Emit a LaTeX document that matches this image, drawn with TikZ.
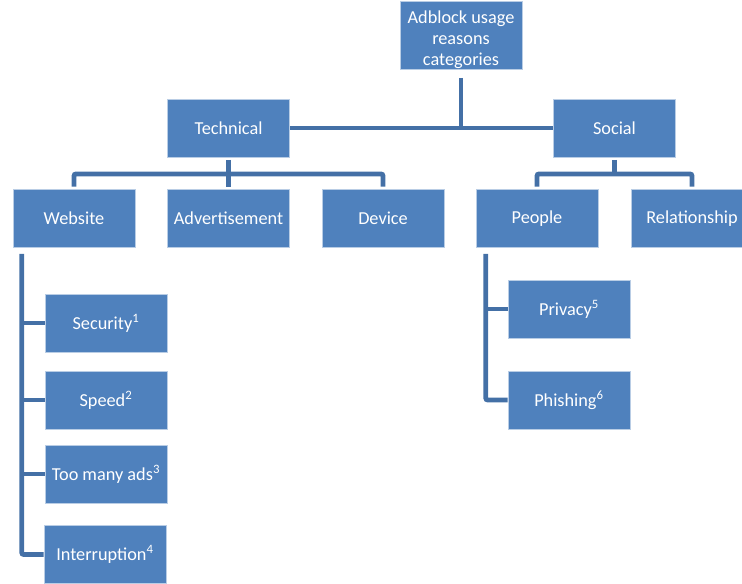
\documentclass[tikz,border=0pt]{standalone}
\usepackage{fontspec}
\setmainfont{Carlito}
\usetikzlibrary{calc}
\definecolor{boxblue}{RGB}{79,129,189}
\definecolor{lineblue}{RGB}{68,112,166}
\tikzset{
 cat/.style={fill=boxblue,draw=boxblue!40!white,line width=0.4pt,text=white,
  minimum width=91.5pt,minimum height=43.5pt,inner sep=1pt,align=center,
  font=\fontsize{13.7}{15.6}\selectfont},
 link/.style={draw=lineblue,line width=3.6pt,rounded corners=1.5pt}
}

\begin{document}
\begin{tikzpicture}[x=0.75pt,y=-0.75pt]
 \useasboundingbox (0,0) rectangle (742,583);
 \node[cat,minimum height=45pt] (top) at (461,35.5) {\rule{0pt}{15.5pt}Adblock usage\\reasons\\categories};
 \node[cat] (tech) at (228.5,128) {Technical};
 \node[cat] (soc) at (614.5,128) {Social};
 \node[cat] (web) at (74,218.5) {Website};
 \node[cat] (adv) at (228.5,218.5) {Advertisement};
 \node[cat] (dev) at (383,218.5) {Device};
 \node[cat] (ppl) at (537,218.5) {People};
 \node[cat] (rel) at (692,218.5) {Relationship};
 \node[cat] (sec) at (106,323) {Security\textsuperscript{1}};
 \node[cat] (spd) at (106,400) {Speed\textsuperscript{2}};
 \node[cat] (ads) at (106,474) {Too many ads\textsuperscript{3}};
 \node[cat] (intr) at (105,554.5) {Interruption\textsuperscript{4}};
 \node[cat] (priv) at (569,309) {Privacy\textsuperscript{5}};
 \node[cat] (phish) at (569,400) {Phishing\textsuperscript{6}};
 % top level
 \draw[link] ([yshift=-6pt]top.south) -- (top.south |- tech.east);
 \draw[link] (tech.east) -- (soc.west);
 % technical
 \draw[link] ([yshift=-2pt]tech.south) -- ++(0,14) coordinate (tj);
 \draw[link] ([yshift=2pt]web.north) |- (tj) -| ([yshift=2pt]dev.north);
 \draw[link] (tj) -- ([yshift=2pt]adv.north);
 % social
 \draw[link] ([yshift=-2pt]soc.south) -- ++(0,14) coordinate (sj);
 \draw[link] ([yshift=2pt]ppl.north) |- (sj) -| ([yshift=2pt]rel.north);
 % website
 \coordinate (wl) at ($(web.south west)+(9,6)$);
 \draw[link] (wl) |- (intr.west);
 \foreach \n in {sec,spd,ads}
  \draw[link] (\n.west -| wl) -- (\n.west);
 % people
 \coordinate (pl) at ($(ppl.south west)+(10,6)$);
 \draw[link] (pl) |- (phish.west);
 \draw[link] (priv.west -| pl) -- (priv.west);
\end{tikzpicture}
\end{document}
